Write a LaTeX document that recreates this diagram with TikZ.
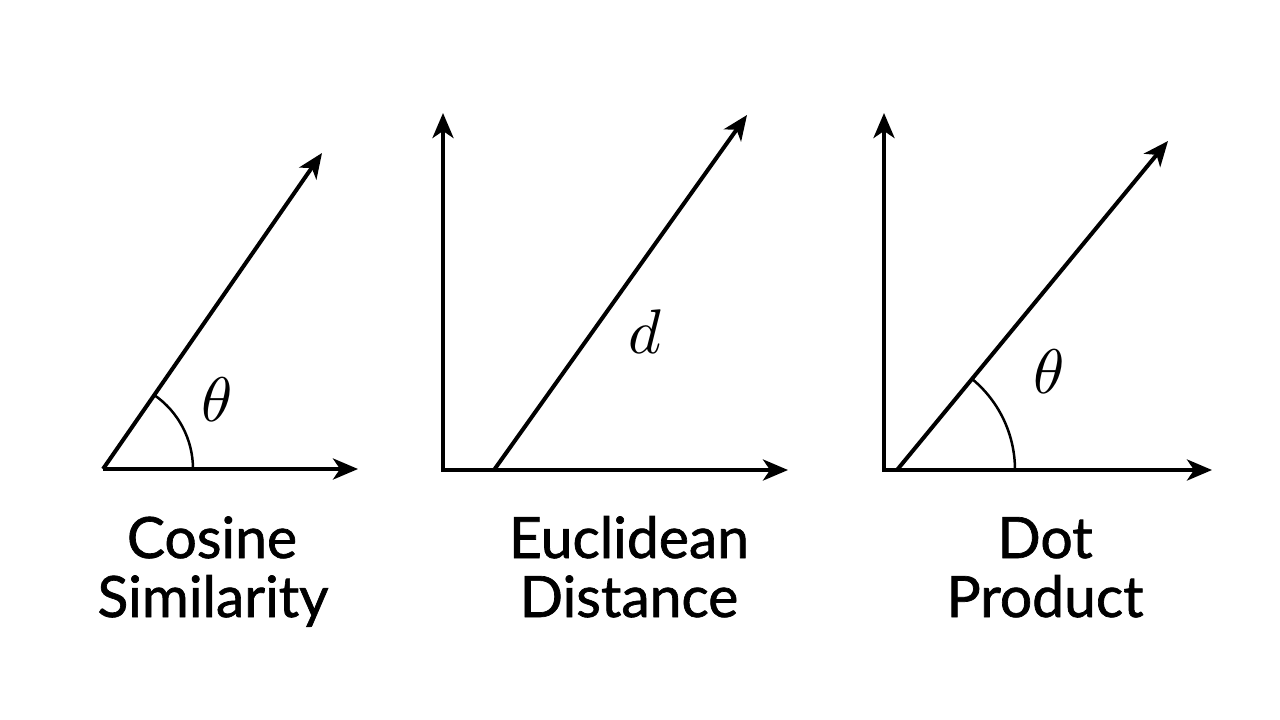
\documentclass[tikz,border=0pt]{standalone}
\usepackage{fontspec}
\setmainfont{Lato}[FakeBold=1.2]
\usetikzlibrary{arrows.meta,calc}
\begin{document}
\begin{tikzpicture}[x=1pt,y=-1pt,
  vec/.style={line width=4pt,-{Stealth[length=25pt,width=21pt,inset=7pt]}},
  axes/.style={line width=4pt,{Stealth[length=25pt,width=21pt,inset=7pt]}-{Stealth[length=25pt,width=21pt,inset=7pt]},line join=miter},
  angarc/.style={line width=2.5pt},
  lbl/.style={anchor=base,inner sep=0pt,font=\fontsize{57}{58}\selectfont},
  sym/.style={inner sep=0pt,scale=6.3}]
\useasboundingbox (0,0) rectangle (1280,720);
% Panel 1
\coordinate (o1) at (103,469);
\coordinate (x1) at (358,469);
\coordinate (v1) at (322,153);
\draw[vec] (o1) -- (x1);
\draw[vec] (o1) -- (v1);
\draw[angarc] ($(o1)+(90,0)$) arc[start angle=0,end angle=-55.3,radius=90];
\node[sym] (t1) at (217,400) {$\theta$};
\node[lbl] (c1a) at (212,558) {Cosine};
\node[lbl] (c1b) at (213,617) {Similarity};
% Panel 2
\coordinate (y2) at (443,113);
\coordinate (o2) at (443,470);
\coordinate (x2) at (788,470);
\coordinate (s2) at (494,470);
\coordinate (v2) at (747,115);
\draw[axes] (y2) -- (o2) -- (x2);
\draw[vec] (s2) -- (v2);
\node[sym] (d2) at (645,332) {$d$};
\node[lbl] (c2a) at (629,558) {Euclidean};
\node[lbl] (c2b) at (629,617) {Distance};
% Panel 3
\coordinate (y3) at (884,113);
\coordinate (o3) at (884,470);
\coordinate (x3) at (1212,470);
\coordinate (s3) at (897,470);
\coordinate (v3) at (1168,141);
\draw[axes] (y3) -- (o3) -- (x3);
\draw[vec] (s3) -- (v3);
\draw[angarc] ($(s3)+(118,0)$) arc[start angle=0,end angle=-50.5,radius=118];
\node[sym] (t3) at (1049,372) {$\theta$};
\node[lbl] (c3a) at (1045,558) {Dot};
\node[lbl] (c3b) at (1045,617) {Product};
\end{tikzpicture}
\end{document}
